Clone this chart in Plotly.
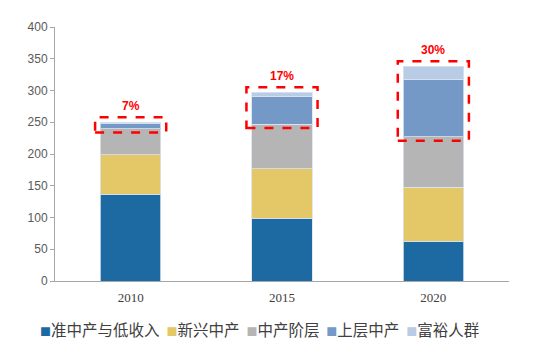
import plotly.graph_objects as go

years = ["2010", "2015", "2020"]
series_names = ["准中产与低收入", "新兴中产", "中产阶层", "上层中产", "富裕人群"]
low_income = [137, 99, 63]
emerging = [62, 78, 85]
middle = [41, 70, 79]
upper_middle = [8, 43, 91]
affluent = [2, 7, 20]
pct_labels = ["7%", "17%", "30%"]

values = [low_income, emerging, middle, upper_middle, affluent]
colors = ["#1D6AA3", "#E4C767", "#B5B5B5", "#7599C7", "#B8CCE6"]
xpos = list(range(len(years)))

fig = go.Figure()
for name, vals, col in zip(series_names, values, colors):
    fig.add_trace(go.Bar(
        x=xpos, y=vals, name=name,
        marker=dict(color=col, line=dict(color="rgba(220,228,240,0.8)", width=1)),
    ))

# dashed boxes around the top two segments + percent labels
for i in xpos:
    base = low_income[i] + emerging[i] + middle[i]
    total = base + upper_middle[i] + affluent[i]
    y0 = base - 6
    y1 = total + 8
    fig.add_shape(type="rect", xref="x", yref="y",
                  x0=i - 0.235, x1=i + 0.235, y0=y0, y1=y1,
                  line=dict(color="#FF0000", width=2.5, dash="dash"))
    fig.add_annotation(x=i, y=y1 + 3, text="<b>" + pct_labels[i] + "</b>",
                       showarrow=False, yanchor="bottom",
                       font=dict(color="#FF0000", size=12, family="Arial"))

# legend drawn as text
legend_text = "".join(
    f"<span style='color:{c}; font-size:11px'>■</span>{n}" + ("  " if k < len(series_names) - 1 else "")
    for k, (n, c) in enumerate(zip(series_names, colors))
)
fig.add_annotation(xref="paper", yref="paper", x=0.45, y=-0.19, xanchor="center", yanchor="middle",
                   text=legend_text, showarrow=False,
                   font=dict(family="Noto Sans CJK SC", size=15.5, color="#404040"))

fig.update_layout(
    barmode="stack",
    bargap=0.6,
    width=540, height=348,
    margin=dict(l=47, r=39, t=15, b=75),
    plot_bgcolor="white", paper_bgcolor="white",
    showlegend=False,
    xaxis=dict(range=[-0.5, 2.5], tickvals=xpos, ticktext=years,
               showline=True, linecolor="#A6A6A6", linewidth=1, ticks="",
               showgrid=False, zeroline=False, ticklabelstandoff=4,
               tickfont=dict(family="Liberation Serif", size=13, color="#404040")),
    yaxis=dict(range=[0, 400], dtick=50, showgrid=False, zeroline=False,
               showline=True, linecolor="#A6A6A6", linewidth=1,
               ticks="outside", ticklen=4, tickcolor="#A6A6A6",
               tickfont=dict(family="Arial", size=12, color="#595959")),
)

fig.write_html("out.html")
